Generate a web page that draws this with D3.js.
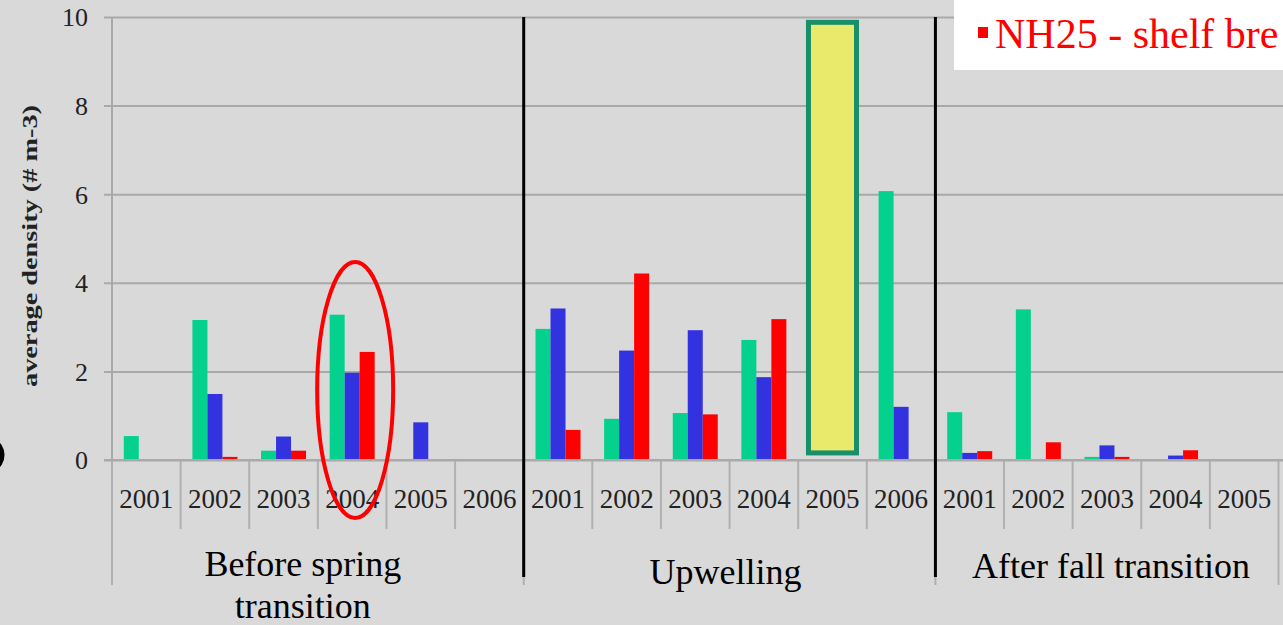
<!DOCTYPE html>
<html>
<head>
<meta charset="utf-8">
<script src="https://cdn.jsdelivr.net/npm/d3@7"></script>
<style>
  html, body { margin: 0; padding: 0; background: #d9d9d9; overflow: hidden; }
  svg { display: block; }
  text { font-family: "Liberation Serif", "Times New Roman", serif; }
</style>
</head>
<body>
<svg id="chart" width="1283" height="625"></svg>
<script>
// Seasonal periods and the years sampled in each
const periods = ["Before spring transition", "Upwelling", "After fall transition"];
const periodYears = [
  ["2001", "2002", "2003", "2004", "2005", "2006"],
  ["2001", "2002", "2003", "2004", "2005", "2006"],
  ["2001", "2002", "2003", "2004", "2005"]
];

// Average density (# m-3) per station, in period/year order
const inshore    = [0.54, 3.16, 0.21, 3.28, 0, 0,   2.96, 0.93, 1.06, 2.71, null, 6.07,   1.08, 3.40, 0.07, 0, 0];
const midShelf   = [0, 1.49, 0.53, 1.97, 0.85, 0,   3.42, 2.47, 2.93, 1.87, null, 1.20,   0.16, 0, 0.33, 0.10, 0];
const shelfBreak = [0, 0.07, 0.21, 2.44, 0, 0,      0.68, 4.21, 1.03, 3.18, null, 0,      0.20, 0.40, 0.07, 0.22, 0];

const yTicks = [0, 2, 4, 6, 8, 10];
const legendLabel = "NH25 - shelf bre";
const yTitle = "average density (# m-3)";

const seriesKeys = ["inshore", "midShelf", "shelfBreak"];
const seriesValues = [inshore, midShelf, shelfBreak];
const seriesColors = ["#05d18e", "#3232e0", "#ff0000"];

// Flatten categories
const cats = [];
periodYears.forEach((ys, p) => ys.forEach(yr => cats.push({ id: p + "-" + yr, period: p, year: yr })));
cats.forEach((c, i) => { c.values = seriesValues.map(s => s[i]); });

const svg = d3.select("#chart");
const serif = "'Liberation Serif', 'Times New Roman', serif";

const plotLeft = 112, plotRight = 1278.5, plotTop = 17, base = 460;
const x = d3.scaleBand().domain(cats.map(c => c.id)).range([plotLeft, plotRight]).padding(0);
const bw = x.bandwidth();
const x1 = d3.scaleBand().domain(seriesKeys).range([bw * 0.172, bw * 0.828]).padding(0);
const y = d3.scaleLinear().domain([0, 10]).range([base, plotTop]);

// Horizontal gridlines with tick labels
const yAxis = d3.axisLeft(y).tickValues(yTicks).tickSize(-(1283 - plotLeft)).tickPadding(16).tickFormat(d3.format("d"));
const gy = svg.append("g").attr("transform", `translate(${plotLeft},0)`).call(yAxis)
  .attr("font-family", null).attr("font-size", null);
gy.select(".domain").remove();
gy.selectAll(".tick line").attr("x1", -8).attr("stroke", "#a9a9a9").attr("stroke-width", 2);
gy.selectAll(".tick text").attr("dy", "0.34em").attr("x", -24)
  .style("font-family", serif).style("font-size", "26px").attr("fill", "#222");

// Vertical value axis line
svg.append("line").attr("x1", plotLeft).attr("x2", plotLeft).attr("y1", plotTop).attr("y2", 585)
  .attr("stroke", "#a9a9a9").attr("stroke-width", 2);

// Y title
svg.append("text")
  .attr("transform", "translate(37,246) rotate(-90)")
  .attr("text-anchor", "middle")
  .attr("textLength", 282).attr("lengthAdjust", "spacingAndGlyphs")
  .style("font-family", serif).style("font-weight", "bold").style("font-size", "20px").attr("fill", "#222")
  .text(yTitle);

// Category separators: short between years, long between periods
const periodStart = new Set();
let acc = 0;
periodYears.forEach(ys => { periodStart.add(acc); acc += ys.length; });
const bounds = d3.range(cats.length + 1);
svg.append("g").selectAll("line").data(bounds).join("line")
  .attr("x1", i => i < cats.length ? x(cats[i].id) : plotRight)
  .attr("x2", i => i < cats.length ? x(cats[i].id) : plotRight)
  .attr("y1", base)
  .attr("y2", i => (periodStart.has(i) || i === cats.length) ? 585 : 529)
  .attr("stroke", "#b0b0b0").attr("stroke-width", 2);

// Year labels
svg.append("g").selectAll("text").data(cats).join("text")
  .attr("x", c => x(c.id) + bw / 2)
  .attr("y", 508)
  .attr("text-anchor", "middle")
  .style("font-family", serif).style("font-size", "27px").attr("fill", "#222")
  .text(c => c.year);

// Bars
const barG = svg.append("g").selectAll("g").data(cats).join("g")
  .attr("transform", c => `translate(${x(c.id)},0)`);
barG.selectAll("rect")
  .data(c => c.values.map((v, k) => ({ key: seriesKeys[k], v, color: seriesColors[k] })).filter(d => d.v))
  .join("rect")
  .attr("x", d => x1(d.key))
  .attr("width", x1.bandwidth())
  .attr("y", d => y(d.v))
  .attr("height", d => base - y(d.v))
  .attr("fill", d => d.color);

// Category axis baseline
svg.append("line").attr("x1", plotLeft - 8).attr("x2", 1283).attr("y1", base).attr("y2", base)
  .attr("stroke", "#a9a9a9").attr("stroke-width", 2);

// Period dividers
acc = 0;
const dividerIdx = [];
periodYears.forEach((ys, p) => { if (p > 0) dividerIdx.push(acc); acc += ys.length; });
svg.append("g").selectAll("line").data(dividerIdx).join("line")
  .attr("x1", i => x(cats[i].id)).attr("x2", i => x(cats[i].id))
  .attr("y1", plotTop).attr("y2", 577)
  .attr("stroke", "#000").attr("stroke-width", 3);

// Period labels
acc = 0;
const periodCenters = periodYears.map(ys => {
  const a = x(cats[acc].id), b = x(cats[acc + ys.length - 1].id) + bw;
  acc += ys.length;
  return (a + b) / 2;
});
const periodLines = [["Before spring", "transition"], ["Upwelling"], ["After fall transition"]];
const periodDx = [-15, -4, 4];
const periodY = [576, 584, 578];
periodLines.forEach((lines, p) => {
  const t = svg.append("text")
    .attr("x", periodCenters[p] + periodDx[p]).attr("y", periodY[p])
    .attr("text-anchor", "middle")
    .style("font-family", serif).style("font-size", "36px").attr("fill", "#000");
  lines.forEach((l, i) => t.append("tspan").attr("x", periodCenters[p] + periodDx[p]).attr("dy", i ? 42 : 0).text(l));
});

// Highlight: 2004 before the spring transition
const hi = cats.find(c => c.period === 0 && c.year === "2004");
svg.append("ellipse")
  .attr("cx", x(hi.id) + bw / 2 + 3).attr("cy", 390)
  .attr("rx", 38).attr("ry", 128)
  .attr("fill", "none").attr("stroke", "#ff0000").attr("stroke-width", 4);

// Highlight: off-scale upwelling 2005
const up = cats.find(c => c.period === 1 && c.year === "2005");
svg.append("rect")
  .attr("x", x(up.id) + bw * 0.15).attr("y", y(9.88))
  .attr("width", bw * 0.7).attr("height", y(0.16) - y(9.88))
  .attr("fill", "#e9e96b").attr("stroke", "#17906a").attr("stroke-width", 5);

// Legend
const lg = svg.append("g");
lg.append("rect").attr("x", 954).attr("y", 0).attr("width", 340).attr("height", 70).attr("fill", "#ffffff");
lg.append("rect").attr("x", 978).attr("y", 27).attr("width", 10).attr("height", 11).attr("fill", "#ff0000");
lg.append("text").attr("x", 995).attr("y", 48)
  .style("font-family", serif).style("font-size", "42px").attr("fill", "#ff0000")
  .text(legendLabel);

// Partial round mark on the far left edge
svg.append("path")
  .attr("d", "M -6 443 A 8 12 0 0 1 -6 467")
  .attr("fill", "none").attr("stroke", "#000").attr("stroke-width", 5);
</script>
</body>
</html>
